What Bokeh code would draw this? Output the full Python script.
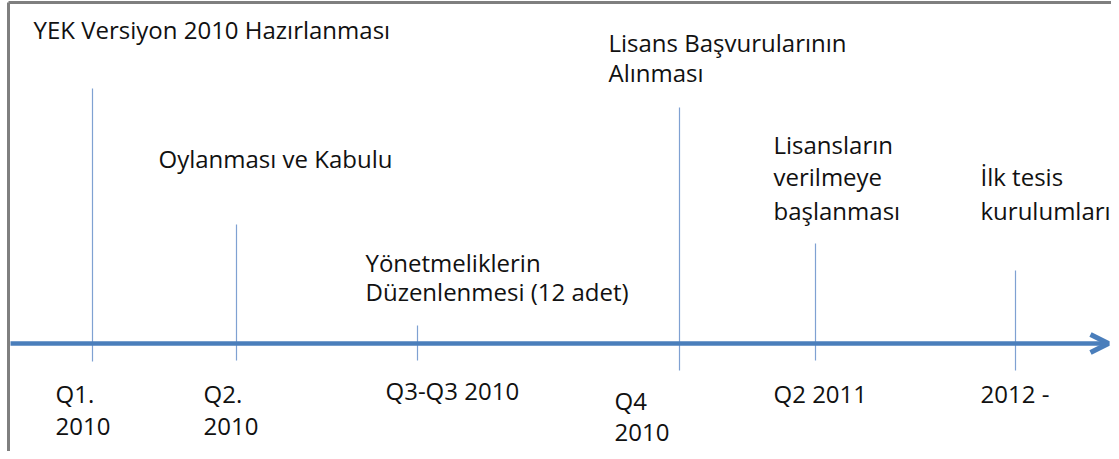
from bokeh.plotting import figure
from bokeh.models import Range1d, Arrow, OpenHead
from bokeh.core.properties import value
from bokeh.embed import file_html
from bokeh.resources import INLINE

# --- data -------------------------------------------------------------
event_x = [92, 236, 417, 679, 815, 1015]          # position on timeline
line_top = [88, 224, 325, 107, 243, 270]           # top of marker line
line_bottom = [361, 360, 360, 370, 360, 370]       # bottom of marker line

# label lines
top_lines = ["YEK Versiyon 2010 Hazırlanması",
             "Oylanması ve Kabulu",
             "Yönetmeliklerin", "Düzenlenmesi (12 adet)",
             "Lisans Başvurularının", "Alınması",
             "Lisansların", "verilmeye", "başlanması",
             "İlk tesis", "kurulumları"]
bottom_lines = ["Q1.", "2010", "Q2.", "2010", "Q3-Q3 2010",
                "Q4", "2010", "Q2 2011", "2012 -"]

# --- layout (pixel positions of label lines) ---------------------------
top_x = [33, 158, 365, 365, 608, 608, 773, 773, 773, 980, 980]
top_y = [29, 158, 262, 291, 42, 72, 144, 176, 210, 176, 210]
bot_x = [55, 55, 203, 203, 385, 614, 614, 773, 980]
bot_y = [393, 426, 393, 426, 390, 400, 432, 393, 393]
axis_y = 343
axis_start, axis_end = 10, 1108

W, H = 1111, 451
p = figure(width=W, height=H, output_backend="svg", toolbar_location=None,
           x_range=Range1d(0, W), y_range=Range1d(H, 0),
           min_border=0, outline_line_color=None)
p.axis.visible = False
p.grid.visible = False
p.background_fill_color = "white"
p.border_fill_color = "white"

# frame (left + top)
p.segment(x0=[8, 8], y0=[2, 2], x1=[8, W], y1=[H, 2],
          line_color="#7f7f7f", line_width=3)

p.segment(x0=event_x, y0=line_top, x1=event_x, y1=line_bottom,
          line_color="#7fa1d2", line_width=1.2)

p.add_layout(Arrow(end=OpenHead(size=18, line_color="#4a7ebb", line_width=5),
                   x_start=axis_start, y_start=axis_y, x_end=axis_end, y_end=axis_y,
                   line_color="#4a7ebb", line_width=4.5))

font = value("Open Sans")
p.text(x=top_x, y=top_y, text=top_lines, text_font=font,
       text_font_size="24px", text_color="#111111",
       text_baseline="alphabetic", text_align="left")
p.text(x=bot_x, y=bot_y, text=bottom_lines, text_font=font,
       text_font_size="24px", text_color="#111111",
       text_baseline="alphabetic", text_align="left")

open("out.html", "w").write(file_html(p, INLINE))
